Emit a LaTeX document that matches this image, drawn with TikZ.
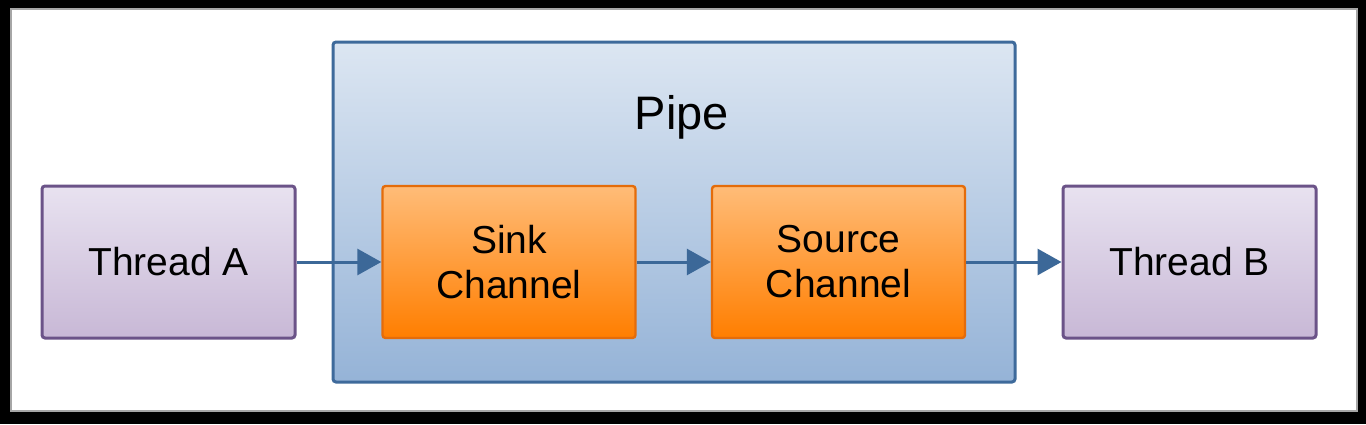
\documentclass[tikz,border=0pt]{standalone}
\usepackage{fontspec}
\setmainfont{Liberation Sans}
\usetikzlibrary{arrows.meta}
\definecolor{thrTop}{HTML}{E8E2F0}
\definecolor{thrBot}{HTML}{C8B8D6}
\definecolor{thrLine}{HTML}{6B5388}
\definecolor{pipeTop}{HTML}{DCE6F2}
\definecolor{pipeBot}{HTML}{95B3D7}
\definecolor{pipeLine}{HTML}{3E6A9B}
\definecolor{orTop}{HTML}{FFBC78}
\definecolor{orBot}{HTML}{FF7E00}
\definecolor{orLine}{HTML}{E46C0A}
\definecolor{arr}{HTML}{3C6898}
\tikzset{
  px/.style={x=0.5pt,y=-0.5pt},
  thread/.style={draw=thrLine, line width=1.5pt, rounded corners=1.5pt, top color=thrTop, bottom color=thrBot, minimum width=126.5pt, minimum height=76pt, inner sep=0pt, font=\fontsize{19.5}{22.5}\selectfont, align=center},
  chan/.style={draw=orLine, line width=1.2pt, rounded corners=1.5pt, top color=orTop, bottom color=orBot, minimum width=126.5pt, minimum height=76pt, inner sep=0pt, font=\fontsize{19.5}{22.5}\selectfont, align=center},
  pipebox/.style={draw=pipeLine, line width=1.5pt, rounded corners=1.5pt, top color=pipeTop, bottom color=pipeBot, minimum width=341pt, minimum height=170pt, inner sep=0pt},
  flow/.style={draw=arr, line width=1.5pt, -{Triangle[length=12pt,width=13pt]}},
}
\begin{document}
\begin{tikzpicture}[px]
\fill[black] (0,0) rectangle (1366,424);
\draw[fill=white, draw=gray!70, line width=0.8pt] (11,9) rectangle (1357,411);
\useasboundingbox (0,0) rectangle (1366,424);
\node[pipebox] (pipe) at (674,212) {};
\node[font=\fontsize{23.5}{27}\selectfont] (pipelabel) at (682,117) {Pipe};
\node[thread] (ta) at (168.5,262) {Thread A};
\node[thread] (tb) at (1189.5,262) {Thread B};
\node[chan] (sink) at (509,262) {Sink\\Channel};
\node[chan] (source) at (838.5,262) {Source\\Channel};
\draw[flow] (ta.east) -- (sink.west);
\draw[flow] (sink.east) -- (source.west);
\draw[flow] (source.east) -- (tb.west);
\end{tikzpicture}
\end{document}
